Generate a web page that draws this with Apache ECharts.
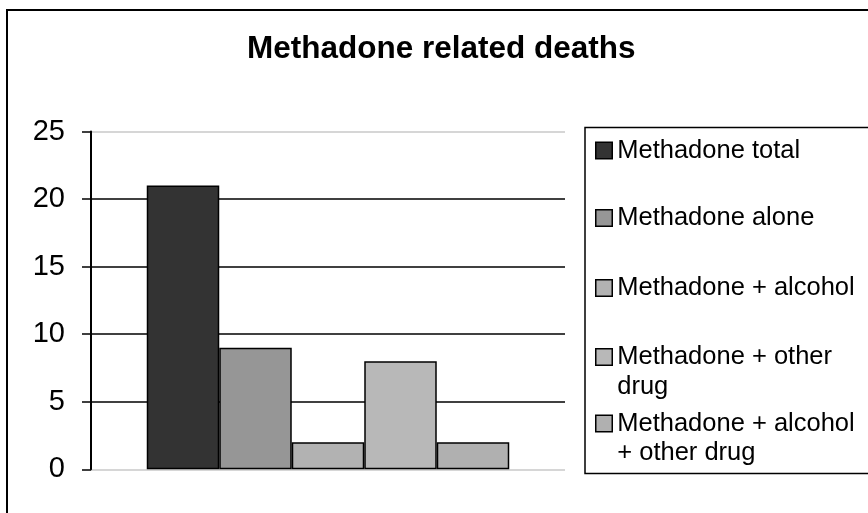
<!DOCTYPE html>
<html>
<head>
<meta charset="utf-8">
<script src="https://cdn.jsdelivr.net/npm/echarts@6/dist/echarts.min.js"></script>
<style>
html,body{margin:0;padding:0;background:#fff;}
#chart{width:868px;height:513px;}
</style>
</head>
<body>
<div id="chart"></div>
<script>
// ---- data ----
const titleText = 'Methadone related deaths';
const categories = [''];
const seriesNames = [
  'Methadone total',
  'Methadone alone',
  'Methadone + alcohol',
  'Methadone + other\ndrug',
  'Methadone + alcohol\n+ other drug'
];
const seriesValues = [21, 9, 2, 8, 2];
const yTicks = { min: 0, max: 25, interval: 5 };

// ---- styles ----
const barColors = ['#333333', '#969696', '#b2b2b2', '#b8b8b8', '#b0b0b0'];
const FONT = '"Liberation Sans", Arial, sans-serif';
const legendCenters = [150.5, 218, 288, 357, 423.5];
const LH = 29.5;

const chart = echarts.init(document.getElementById('chart'), null, {renderer: 'canvas'});

const series = seriesNames.map((name, i) => ({
  name: name,
  type: 'bar',
  data: [seriesValues[i]],
  barWidth: 72.5,
  barGap: '0%',
  itemStyle: { color: barColors[i], borderColor: '#000', borderWidth: 1.5 },
  emphasis: { disabled: true }
}));

const legends = seriesNames.map((name, i) => {
  const extra = name.split('\n').length - 1;   // extra lines below first line
  const blockLines = 1 + 2 * extra;             // pad blank lines on top so first line sits in middle
  return {
    data: [name],
    left: 595,
    top: legendCenters[i] - (LH * blockLines) / 2,
    orient: 'vertical',
    padding: 0,
    itemWidth: 16.5,
    itemHeight: 16.5,
    icon: 'rect',
    selectedMode: false,
    formatter: n => '\n'.repeat(extra) + n,
    itemStyle: { borderColor: '#000', borderWidth: 1.5 },
    textStyle: { fontFamily: FONT, fontSize: 25.5, color: '#000', lineHeight: LH }
  };
});

chart.setOption({
  animation: false,
  backgroundColor: '#fff',
  title: {
    text: titleText,
    left: 247,
    top: 33,
    padding: 0,
    textStyle: { fontFamily: FONT, fontSize: 31.5, fontWeight: 'bold', color: '#000' }
  },
  legend: legends,
  grid: { left: 91, right: 303, top: 131.5, bottom: 43.7, containLabel: false },
  xAxis: {
    type: 'category',
    data: categories,
    axisLine: { show: false },
    axisTick: { show: false },
    axisLabel: { show: false },
    splitLine: { show: false }
  },
  yAxis: {
    type: 'value',
    min: yTicks.min,
    max: yTicks.max,
    interval: yTicks.interval,
    axisLine: { show: true, lineStyle: { color: '#000', width: 2 } },
    axisTick: { show: true, length: 9, lineStyle: { color: '#000', width: 1.5 } },
    axisLabel: { margin: 26, fontFamily: FONT, fontSize: 29, color: '#000' },
    splitLine: {
      show: true,
      lineStyle: { color: ['#c8c8c8', '#000', '#000', '#000', '#000', '#c8c8c8'], width: 1.5 }
    }
  },
  series: series,
  graphic: [
    { type: 'rect', shape: { x: 7, y: 10, width: 900, height: 600 }, style: { fill: 'none', stroke: '#000', lineWidth: 2 }, z: 100, silent: true },
    { type: 'rect', shape: { x: 585, y: 127.5, width: 400, height: 346 }, style: { fill: 'none', stroke: '#000', lineWidth: 1.5 }, z: 100, silent: true }
  ]
});
</script>
</body>
</html>
